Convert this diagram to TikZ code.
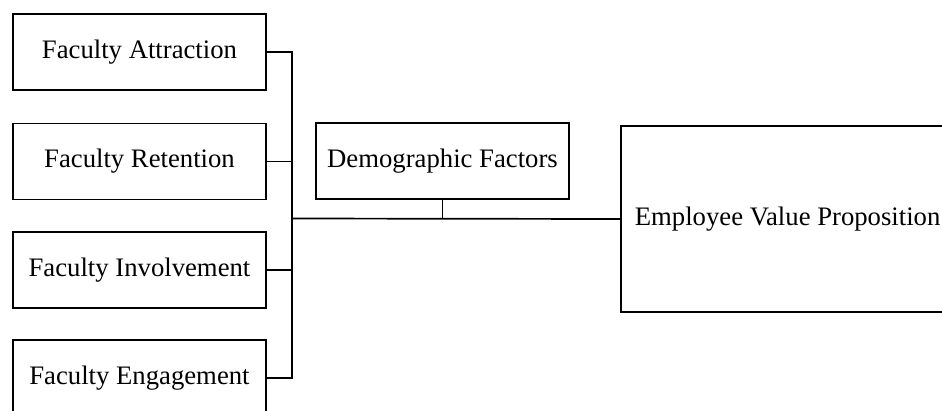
\documentclass[tikz,border=0pt]{standalone}
\usepackage{fontspec}
\setmainfont{Liberation Serif}
\begin{document}
\begin{tikzpicture}[x=1pt,y=-1pt,
  box/.style={draw, line width=1.7pt, minimum width=253.5pt, minimum height=76pt, inner sep=0pt, font=\fontsize{26.7}{30}\selectfont},
  wire/.style={line width=1.7pt}]
\useasboundingbox (0,0) rectangle (942,410);
\node[box] (fa) at (139.5,52) {Faculty Attraction};
\node[box] (fr) at (139.5,161.5) {Faculty Retention};
\node[box] (fi) at (139.5,270) {Faculty Involvement};
\node[box] (fe) at (139.5,378) {Faculty Engagement};
\node[box] (dem) at (442.5,161) {Demographic Factors};
\node[draw, line width=1.7pt, anchor=west, minimum height=186pt, text width=330pt, inner xsep=14pt, align=flush left, font=\fontsize{26.7}{30}\selectfont] (evp) at (620,219) {Employee Value Proposition};
\coordinate (bustop) at (292,52);
\coordinate (busbot) at (292,378);
\coordinate (junc) at (292,218.5);
\draw[wire] (fa.east) -- (bustop) -- (busbot) -- (fe.east);
\draw[wire] (fr.east) -- (fr.east -| junc);
\draw[wire] (fi.east) -- (fi.east -| junc);
\draw[wire] (junc) -- (evp.west);
\draw[wire] (dem.south) -- (dem.south |- junc);
\end{tikzpicture}
\end{document}
